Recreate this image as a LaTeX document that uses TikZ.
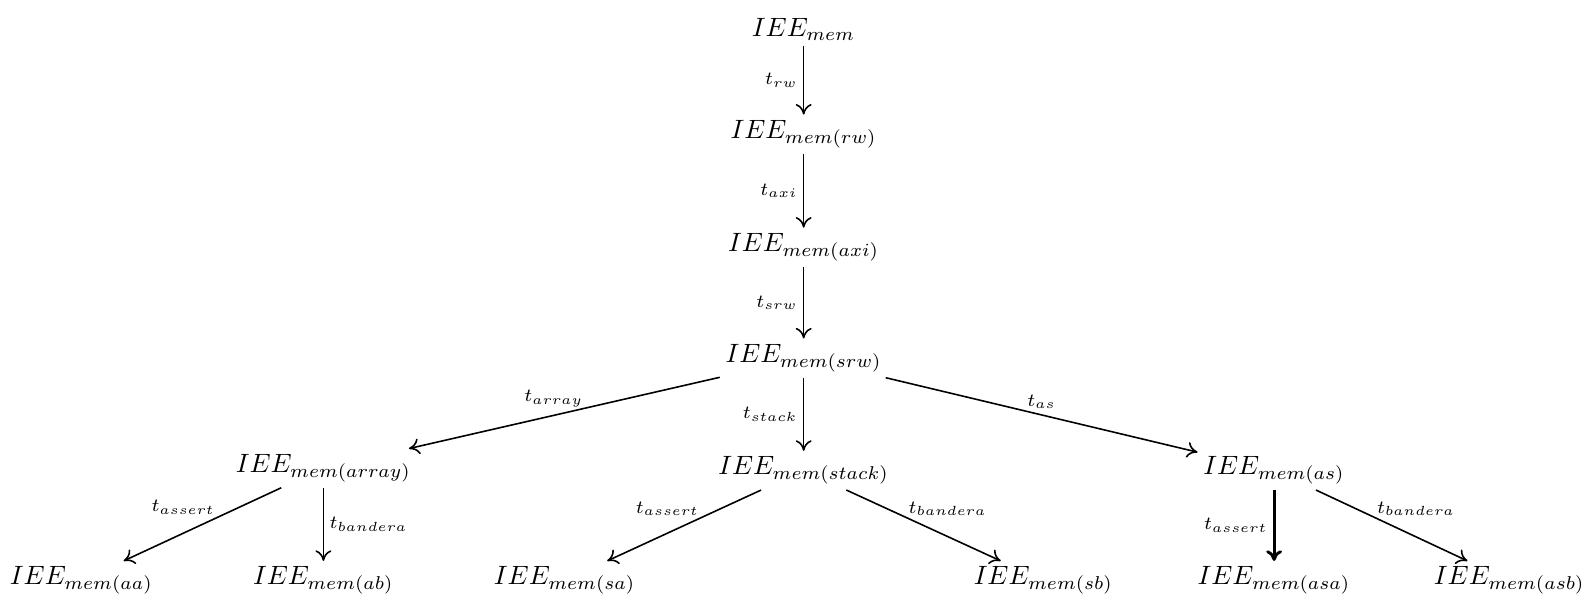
\documentclass[tikz,border=0pt]{standalone}
\usetikzlibrary{arrows.meta}
\tikzset{
  st/.style={inner sep=2pt},
  tr/.style={-{To[length=4pt,width=6pt]}, line width=.6pt},
  lbl/.style={inner sep=2pt}
}
\begin{document}
\begin{tikzpicture}
\useasboundingbox (0,0) rectangle (21.17,-8.02);
\node[st] (mem) at (10.66,-0.385){$IEE_{mem}$};
\node[st] (rw) at (10.66,-1.78){$IEE_{mem(rw)}$};
\node[st] (axi) at (10.66,-3.28){$IEE_{mem(axi)}$};
\node[st] (srw) at (10.66,-4.75){$IEE_{mem(srw)}$};
\draw[tr](mem) -- node[lbl, left]{$\scriptstyle t_{rw}$} (rw);
\draw[tr](rw) -- node[lbl, left]{$\scriptstyle t_{axi}$} (axi);
\draw[tr](axi) -- node[lbl, left]{$\scriptstyle t_{srw}$} (srw);
\node[st] (array) at (4.29,-6.21){$IEE_{mem(array)}$};
\node[st] (stack) at (10.66,-6.24){$IEE_{mem(stack)}$};
\node[st] (as) at (16.90,-6.24){$IEE_{mem(as)}$};
\draw[tr](srw) -- node[lbl, above, xshift=-4pt]{$\scriptstyle t_{array}$} (array);
\draw[tr](srw) -- node[lbl, left]{$\scriptstyle t_{stack}$} (stack);
\draw[tr](srw) -- node[lbl, above]{$\scriptstyle t_{as}$} (as);
\node[st] (aa) at (1.08,-7.70){$IEE_{mem(aa)}$};
\node[st] (ab) at (4.29,-7.70){$IEE_{mem(ab)}$};
\draw[tr](array) -- node[lbl, above left, pos=.45, xshift=4pt]{$\scriptstyle t_{assert}$} (aa);
\draw[tr](array) -- node[lbl, right]{$\scriptstyle t_{bandera}$} (ab);
\node[st] (sa) at (7.49,-7.70){$IEE_{mem(sa)}$};
\node[st] (sb) at (13.84,-7.70){$IEE_{mem(sb)}$};
\draw[tr](stack) -- node[lbl, above left, pos=.45, xshift=5pt]{$\scriptstyle t_{assert}$} (sa);
\draw[tr](stack) -- node[lbl, above right, pos=.45, xshift=-5pt]{$\scriptstyle t_{bandera}$} (sb);
\node[st] (asa) at (16.90,-7.70){$IEE_{mem(asa)}$};
\node[st] (asb) at (20.02,-7.70){$IEE_{mem(asb)}$};
\draw[tr, line width=1.1pt](as) -- node[lbl, left]{$\scriptstyle t_{assert}$} (asa);
\draw[tr](as) -- node[lbl, above right, pos=.45, xshift=-5pt]{$\scriptstyle t_{bandera}$} (asb);
\end{tikzpicture}
\end{document}
